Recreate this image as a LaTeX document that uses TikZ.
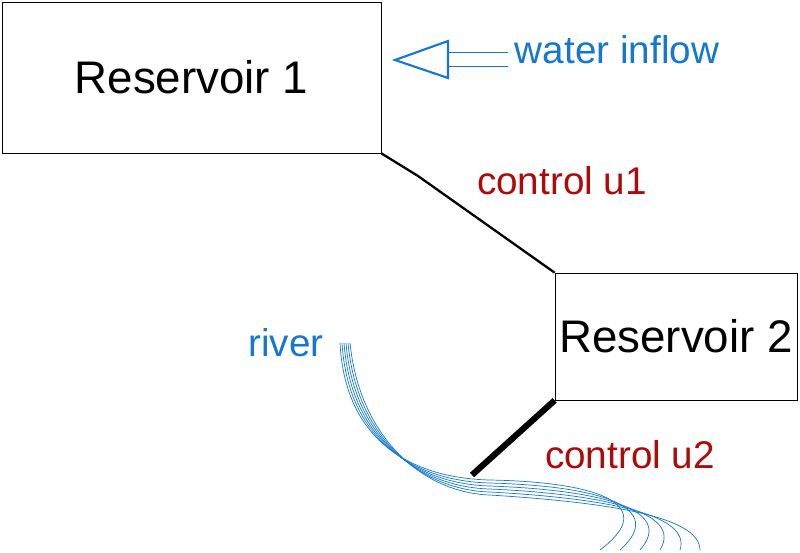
\documentclass[tikz,border=0pt]{standalone}
\usepackage{fontspec}
\setmainfont{Liberation Sans}
\usepackage{tikz}
\definecolor{waterblue}{RGB}{20,120,210}
\definecolor{ctrlred}{RGB}{175,10,10}

\begin{document}
\begin{tikzpicture}[x=0.02cm,y=-0.02cm,
                    reservoir/.style={draw,thin,inner sep=0pt,font=\fontsize{26}{30}\selectfont},
                    water/.style={waterblue,font=\fontsize{22}{26}\selectfont},
                    ctrl/.style={ctrlred,font=\fontsize{22}{26}\selectfont}]
    \useasboundingbox (0,0) rectangle (800,552);
    \node[reservoir,minimum width=379*0.02cm,minimum height=151*0.02cm] (res1) at (191.5,77.5) {Reservoir 1};
    \node[reservoir,minimum width=242*0.02cm,minimum height=127*0.02cm] (res2) at (676,336.5) {Reservoir 2};
    \node[water] (inflow) at (617,50) {water inflow};
    \node[water] (river) at (286,343) {river};
    \node[ctrl] (u1) at (562,181) {control u1};
    \node[ctrl] (u2) at (630,455) {control u2};
    \coordinate (bend) at (418,176);
    \coordinate (outlet) at (472,475);
    % inflow arrow
    \draw[waterblue,line width=1.2pt] (395,60) -- (448,41) -- (448,78) -- cycle;
    \draw[waterblue,thin] (448,52) -- (508,52) (448,66) -- (508,66);
    % controls
    \draw[line width=1.3pt] (res1.south east) -- (bend) -- (res2.north west);
    \draw[line width=3.5pt] (res2.south west) -- (outlet);
    % river
    \foreach \i in {0,...,5}
        \draw[waterblue,thin] (340+2*\i,343) .. controls (345+3*\i,440) and (410+3*\i,478+3*\i) .. (490,480+3*\i)
            .. controls (600,482+4*\i) and (660+8*\i,505+2*\i) .. (600+20*\i,550);
\end{tikzpicture}
\end{document}
